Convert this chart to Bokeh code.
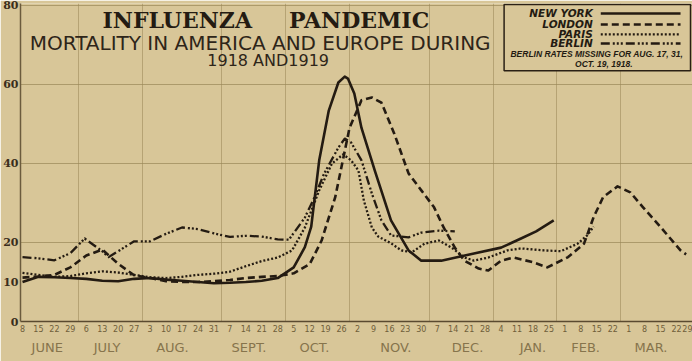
from bokeh.plotting import figure
from bokeh.models import FixedTicker, LinearAxis, Label, Range1d
from bokeh.embed import file_html
from bokeh.resources import INLINE

# ---------------- data (death rate per 1000, annual basis) ----------------
day_labels = ["8", "15", "22", "29", "6", "13", "20", "27", "3", "10", "17", "24", "31",
              "7", "14", "21", "28", "5", "12", "19", "26", "2", "9", "16", "23", "30",
              "7", "14", "21", "28", "4", "11", "18", "25", "1", "8", "15", "22",
              "1", "8", "15", "22", "29"]
months = ["JUNE", "JULY", "AUG.", "SEPT.", "OCT.", "NOV.", "DEC.", "JAN.", "FEB.", "MAR."]
month_pos = [1.55, 5.3, 9.4, 14.2, 18.3, 23.4, 27.9, 32.0, 35.3, 39.4]
month_bounds = [3.5, 7.5, 12.5, 16.5, 20.5, 25.5, 29.5, 33.5, 37.5]

# week index (0 = June 8, 1918)
ny_week = [0, 1, 2, 3, 4, 5, 6, 7, 8, 9, 10, 11, 12, 13, 14, 15, 16, 17, 17.7, 18.1, 18.6,
           19.2, 19.8, 20.2, 20.4, 20.8, 21.25, 22.1, 23.1, 24.2, 25, 26.25, 28.3, 30, 31.25,
           32.2, 33.3]
ny_rate = [10, 11.3, 11.2, 11, 10.8, 10.3, 10.2, 10.8, 11, 10.6, 10.3, 10, 9.7, 9.8, 10, 10.3,
           11, 13.7, 18.8, 24, 40.8, 53.4, 60.5, 62, 61.5, 57.7, 49, 38, 25.6, 18, 15.4, 15.4,
           17.2, 18.7, 21, 22.8, 25.6]

london_week = [0, 1, 2, 3, 4, 5, 6, 7, 8, 9, 10, 11, 12, 13, 14, 15, 16, 17, 18, 18.75,
               19.6, 20.5, 21.25, 21.9, 22.5, 23.3, 24.2, 25, 25.8, 26.4, 27.1, 27.7, 28.6,
               29.2, 30, 30.8, 32, 32.9, 34.2, 35.2, 35.8, 36.4, 37.3, 38.1, 38.9, 40, 41.25,
               41.6]
london_rate = [11.1, 11.4, 11.8, 13.7, 16.7, 18.2, 14.6, 11.7, 11, 10.2, 10, 10, 10.2, 10.5, 11,
               11.3, 11.5, 12.2, 14.5, 20.5, 31.4, 49, 56, 56.7, 55.4, 47.6, 37.5, 33.2, 28.9,
               23.8, 18.7, 15.4, 13.4, 12.9, 15.4, 16.2, 15, 13.7, 16.3, 19.7, 26.4, 31.5, 34.2,
               32.7, 28.9, 23.9, 18, 17]

paris_week = [0, 1, 2, 3, 4, 5, 6, 7, 8, 9, 10, 11, 12, 13, 14, 15, 16, 16.9, 17.7, 18.6,
              19.4, 20.1, 20.6, 21.06, 21.4, 21.9, 22.3, 23.1, 23.75, 24.4, 25.2, 26.1, 26.9,
              27.7, 28.3, 29.2, 30.4, 31.25, 32.7, 33.75, 34.8, 35.4, 35.8]
paris_rate = [12.3, 11.8, 11.3, 11.5, 12.2, 12.7, 12.4, 11.8, 11.2, 11, 11.3, 11.8, 12.1, 12.6,
              14, 15.3, 16.2, 18, 23.8, 33.2, 40, 42.3, 40.8, 38.2, 30.6, 23.8, 21.5, 19.8, 18,
              17.5, 19.7, 20.5, 18.7, 16.2, 15.4, 16.2, 18, 18.5, 18, 17.8, 19.7, 21.8, 24]

berlin_week = [0, 1, 2, 3, 3.9, 5, 5.4, 6, 7, 8, 9, 10, 11, 12, 13, 14, 15, 16, 16.7, 17.7,
               18.3, 18.9, 19.8, 20.2, 20.6, 21.25, 21.9, 22.5, 23.1, 24.2, 25, 26.1, 27.1]
berlin_rate = [16.3, 16, 15.5, 17.3, 21, 17.8, 16.3, 17.8, 20.3, 20.3, 22.2, 23.8, 23.4, 22.3,
               21.4, 21.7, 21.5, 20.8, 20.7, 26.3, 31.4, 37.4, 44, 46.3, 45.3, 40.8, 32.4, 25.6,
               21.8, 21.3, 22.5, 23, 22.8]

# ---------------- styling ----------------
PAPER = "#d8c698"
INK = "#241b12"
FADED = "#86744c"

p = figure(width=692, height=361, x_range=Range1d(-0.125, 42), y_range=Range1d(0, 80.5),
           output_backend="svg", toolbar_location=None,
           min_border_left=18, min_border_right=0, min_border_top=3, min_border_bottom=40,
           background_fill_color=PAPER, border_fill_color=PAPER, outline_line_color=None)

# grid
p.xgrid.ticker = FixedTicker(ticks=month_bounds)
p.ygrid.ticker = FixedTicker(ticks=[20, 40, 60, 80])
p.xgrid.grid_line_color = "#9a8758"
p.ygrid.grid_line_color = "#9a8758"
p.xgrid.grid_line_alpha = 0.55
p.ygrid.grid_line_alpha = 0.7

# y axis
p.yaxis.ticker = FixedTicker(ticks=[0, 10, 20, 40, 60, 80])
p.yaxis.major_tick_in = 0
p.yaxis.major_tick_out = 0
p.yaxis.minor_tick_line_color = None
p.yaxis.major_label_standoff = 2
p.yaxis.major_label_text_font = "DejaVu Serif"
p.yaxis.major_label_text_font_style = "bold"
p.yaxis.major_label_text_font_size = "11px"
p.yaxis.major_label_text_color = "#3a2e1c"
p.yaxis.axis_line_color = "#6b5b3d"
p.yaxis.axis_line_width = 1.5

# x axis (weeks)
p.xaxis.ticker = FixedTicker(ticks=list(range(len(day_labels))))
p.xaxis.major_label_overrides = {i: d for i, d in enumerate(day_labels)}
p.xaxis.major_tick_in = 0
p.xaxis.major_tick_out = 0
p.xaxis.minor_tick_line_color = None
p.xaxis.major_label_standoff = 3
p.xaxis.major_label_text_font = "DejaVu Sans"
p.xaxis.major_label_text_font_size = "8px"
p.xaxis.major_label_text_color = "#6f5e3a"
p.xaxis.axis_line_color = "#5a4a30"
p.xaxis.axis_line_width = 1.5

# month axis
month_axis = LinearAxis(ticker=FixedTicker(ticks=month_pos),
                        major_label_overrides={m: t for m, t in zip(month_pos, months)},
                        major_tick_in=0, major_tick_out=0, minor_tick_line_color=None,
                        axis_line_color=None, major_label_standoff=5,
                        major_label_text_font="DejaVu Sans", major_label_text_font_size="13px",
                        major_label_text_color=FADED)
p.add_layout(month_axis, "below")

# series
p.line(ny_week, ny_rate, line_color=INK, line_width=2.6, line_join="round")
p.line(london_week, london_rate, line_color=INK, line_width=2.6, line_dash="7 4", line_join="round")
p.line(paris_week, paris_rate, line_color=INK, line_width=2.3, line_dash="2 2", line_join="round")
p.line(berlin_week, berlin_rate, line_color=INK, line_width=2.3, line_dash="9 3 2 2 2 2 2 3",
       line_join="round")

# title
def lab(x, y, text, font, size, style="normal", color=INK, align="center"):
    p.add_layout(Label(x=x, y=y, text=text, text_font=font, text_font_size=size,
                       text_font_style=style, text_color=color, text_align=align,
                       text_baseline="middle"))

lab(9.7, 76.2, "INFLUENZA", "DejaVu Serif", "22px", "bold")
lab(21.1, 76.2, "PANDEMIC", "DejaVu Serif", "22px", "bold")
lab(14.9, 70.6, "MORTALITY IN AMERICA AND EUROPE DURING", "DejaVu Sans", "20px", color="#2e2519")
lab(15.4, 66.1, "1918 AND1919", "DejaVu Sans", "16px", color="#2e2519")

# legend box
p.quad(left=[30.19], right=[41.875], top=[80.25], bottom=[63.5], fill_color=PAPER,
       line_color="#2a2015", line_width=1.5)
names = ["NEW YORK", "LONDON", "PARIS", "BERLIN"]
rows = [77.97, 75.19, 72.66, 70.38]
dashes = ["solid", "7 4", "2 2", "9 3 2 2 2 2 2 3"]
widths = [2.6, 2.6, 2.3, 2.3]
for n, r, d, w in zip(names, rows, dashes, widths):
    lab(35.75, r, n, "DejaVu Sans", "10.5px", "bold italic", align="right")
    p.line([36.25, 41.25], [r, r], line_color=INK, line_width=w, line_dash=d)
lab(36.0, 67.6, "BERLIN RATES MISSING FOR AUG. 17, 31,", "Liberation Sans", "8.5px", "bold italic")
lab(36.44, 65.1, "OCT. 19, 1918.", "Liberation Sans", "8.5px", "bold italic")

open("out.html", "w").write(file_html(p, INLINE))
